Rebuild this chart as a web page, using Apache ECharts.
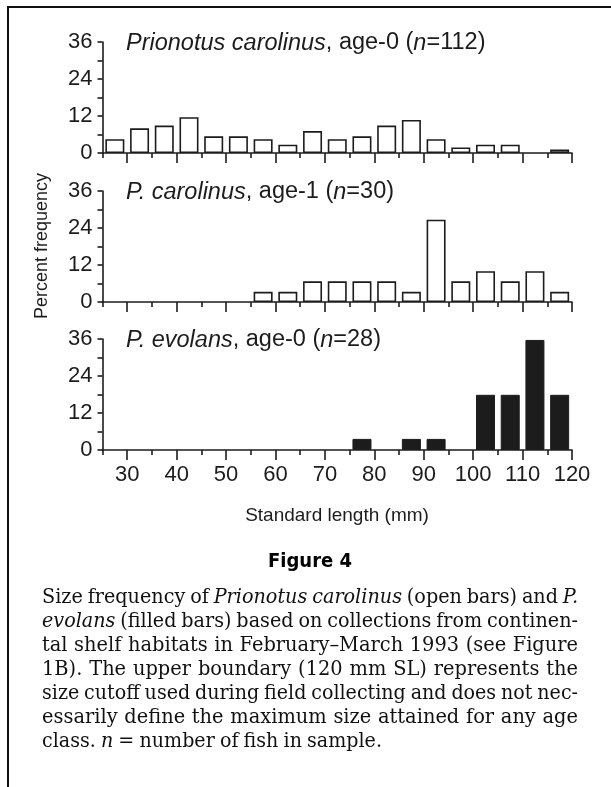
<!DOCTYPE html>
<html>
<head>
<meta charset="utf-8">
<script src="https://cdn.jsdelivr.net/npm/echarts@6/dist/echarts.min.js"></script>
<style>
  html, body { margin: 0; padding: 0; background: #fff; }
  #chart { width: 611px; height: 787px; }
</style>
</head>
<body>
<div id="chart"></div>
<script>
// 5 mm size bins (start of each bin), standard length in mm
const binStarts = [25, 30, 35, 40, 45, 50, 55, 60, 65, 70, 75, 80, 85, 90, 95, 100, 105, 110, 115]

// percent frequency per bin
const carolinusAge0 = [4.5, 8.0, 8.9, 11.6, 5.4, 5.4, 4.5, 2.7, 7.1, 4.5, 5.4, 8.9, 10.7, 4.5, 1.8, 2.7, 2.7, 0, 1.1]
const carolinusAge1 = [0, 0, 0, 0, 0, 0, 3.3, 3.3, 6.7, 6.7, 6.7, 6.7, 3.3, 26.7, 6.7, 10, 6.7, 10, 3.3]
const evolansAge0 = [0, 0, 0, 0, 0, 0, 0, 0, 0, 0, 3.6, 0, 3.6, 3.6, 0, 17.9, 17.9, 35.7, 17.9]

const xMajorTicks = [30, 40, 50, 60, 70, 80, 90, 100, 110, 120]
const xMinorTicks = [25, 35, 45, 55, 65, 75, 85, 95, 105, 115]

const panelTitles = [
  '{i|Prionotus carolinus}, age-0 ({i|n}=112)',
  '{i|P. carolinus}, age-1 ({i|n}=30)',
  '{i|P. evolans}, age-0 ({i|n}=28)'
]

const captionLines = [
  [['Size frequency of', 0], ['Prionotus carolinus', 1], ['(open bars) and', 0], ['P.', 1]],
  [['evolans', 1], ['(filled bars) based on collections from continen-', 0]],
  [['tal shelf habitats in February\u2013March 1993 (see Figure', 0]],
  [['1B). The upper boundary (120 mm SL) represents the', 0]],
  [['size cutoff used during field collecting and does not nec-', 0]],
  [['essarily define the maximum size attained for any age', 0]],
  [['class.', 0], ['n', 1], ['= number of fish in sample.', 0]]
]

const INK = '#1c1c1c'
const SANS = '"Liberation Sans", Arial, sans-serif'
const SERIF = '"DejaVu Serif", serif'

const gridTops = [42, 191, 339]
const gridH = 111
const gridLeft = 102.5
const gridW = 469.5

function binData(values) {
  return binStarts.map((b, i) => [b + 2.5, values[i] > 0 ? values[i] : null])
}

function buildAxes() {
  const xAxis = []
  const yAxis = []
  gridTops.forEach((_, i) => {
    const last = i === gridTops.length - 1
    xAxis.push({
      gridIndex: i, type: 'value', position: 'bottom', min: 25, max: 120, interval: 5,
      axisLine: { show: true, lineStyle: { color: INK, width: 1.6 } },
      axisTick: { show: true, customValues: xMajorTicks, length: 10, lineStyle: { color: INK, width: 1.6 } },
      axisLabel: { show: last, customValues: xMajorTicks, color: INK, fontSize: 22, fontFamily: SANS, margin: 14 },
      splitLine: { show: false }
    })
    xAxis.push({
      gridIndex: i, type: 'value', position: 'bottom', min: 25, max: 120, interval: 5,
      axisLine: { show: false },
      axisTick: { show: true, customValues: xMinorTicks, length: 5, lineStyle: { color: INK, width: 1.6 } },
      axisLabel: { show: false },
      splitLine: { show: false }
    })
    yAxis.push({
      gridIndex: i, type: 'value', min: 0, max: 36, interval: 12,
      axisLine: { show: true, lineStyle: { color: INK, width: 1.6 } },
      axisTick: { show: true, length: 5, lineStyle: { color: INK, width: 1.6 } },
      minorTick: { show: true, splitNumber: 2, length: 5, lineStyle: { color: INK, width: 1.6 } },
      axisLabel: { color: INK, fontSize: 22, fontFamily: SANS, margin: 10 },
      splitLine: { show: false }
    })
  })
  return { xAxis, yAxis }
}

function measure(ctx, text, italic, fs) {
  ctx.font = (italic ? 'italic ' : '') + fs + 'px ' + SERIF
  return ctx.measureText(text).width
}

// justified caption: one text element per word; each line is squeezed
// horizontally so that it fills the column with about a normal space
function buildCaption(left, right, top, lineH, fs) {
  const W = right - left
  const ctx = document.createElement('canvas').getContext('2d')
  const lines = captionLines.map(segs => {
    const words = []
    segs.forEach(([t, it]) => t.split(' ').filter(Boolean).forEach(w => words.push([w, it])))
    return words
  })
  const space = measure(ctx, ' ', 0, fs) * 0.85
  const sxs = lines.map(words => {
    const sum = words.reduce((s, [w, it]) => s + measure(ctx, w, it, fs), 0)
    return Math.max(0.78, Math.min(0.97, (W - (words.length - 1) * space * 0.9) / sum))
  })
  const lastSx = Math.min(...sxs.slice(0, -1))

  const out = []
  lines.forEach((words, li) => {
    const lastLine = li === lines.length - 1
    const sx = lastLine ? lastSx : sxs[li]
    const widths = words.map(([w, it]) => measure(ctx, w, it, fs) * sx)
    const sum = widths.reduce((a, b) => a + b, 0)
    const gap = lastLine || words.length < 2 ? space * sx : (W - sum) / (words.length - 1)
    let x = left
    words.forEach(([w, it], j) => {
      out.push({
        type: 'text', x, y: top + li * lineH, scaleX: sx, silent: true,
        style: { text: w, font: (it ? 'italic ' : '') + fs + 'px ' + SERIF, fill: '#111', verticalAlign: 'middle' }
      })
      x += widths[j] + gap
    })
  })
  return out
}

const chart = echarts.init(document.getElementById('chart'), null, { renderer: 'canvas' })
const { xAxis, yAxis } = buildAxes()

const openBar = { color: '#fff', borderColor: INK, borderWidth: 1.6 }
const filledBar = { color: INK, borderColor: INK, borderWidth: 1 }

const graphic = [
  { type: 'line', silent: true, shape: { x1: 8, y1: 7, x2: 611, y2: 7 }, style: { stroke: '#111', lineWidth: 2 } },
  { type: 'line', silent: true, shape: { x1: 8, y1: 6, x2: 8, y2: 787 }, style: { stroke: '#111', lineWidth: 2 } },
  {
    type: 'text', silent: true, x: 42, y: 246, rotation: Math.PI / 2,
    style: { text: 'Percent frequency', font: '18px ' + SANS, fill: INK, align: 'center', verticalAlign: 'middle' }
  },
  {
    type: 'text', silent: true, x: 337, y: 516,
    style: { text: 'Standard length (mm)', font: '19px ' + SANS, fill: INK, align: 'center', verticalAlign: 'middle' }
  },
  {
    type: 'text', silent: true, x: 310, y: 562,
    style: { text: 'Figure 4', font: 'bold 20px "DejaVu Sans Condensed", "DejaVu Sans", sans-serif', fill: '#000', align: 'center', verticalAlign: 'middle' }
  }
]
panelTitles.forEach((t, i) => {
  graphic.push({
    type: 'text', silent: true, x: 126, y: gridTops[i] + 1,
    style: {
      text: t, font: '23.5px ' + SANS, fill: INK, verticalAlign: 'middle',
      rich: { i: { fontStyle: 'italic', fontSize: 23.5, fontFamily: SANS, fill: INK } }
    }
  })
})
buildCaption(42, 578, 598, 24, 20).forEach(g => graphic.push(g))

chart.setOption({
  animation: false,
  backgroundColor: '#fff',
  grid: gridTops.map(t => ({ left: gridLeft, top: t, width: gridW, height: gridH })),
  xAxis,
  yAxis,
  series: [
    { type: 'bar', xAxisIndex: 0, yAxisIndex: 0, barWidth: 19, data: binData(carolinusAge0), itemStyle: openBar },
    { type: 'bar', xAxisIndex: 2, yAxisIndex: 1, barWidth: 19, data: binData(carolinusAge1), itemStyle: openBar },
    { type: 'bar', xAxisIndex: 4, yAxisIndex: 2, barWidth: 19, data: binData(evolansAge0), itemStyle: filledBar }
  ],
  graphic
})
</script>
</body>
</html>
